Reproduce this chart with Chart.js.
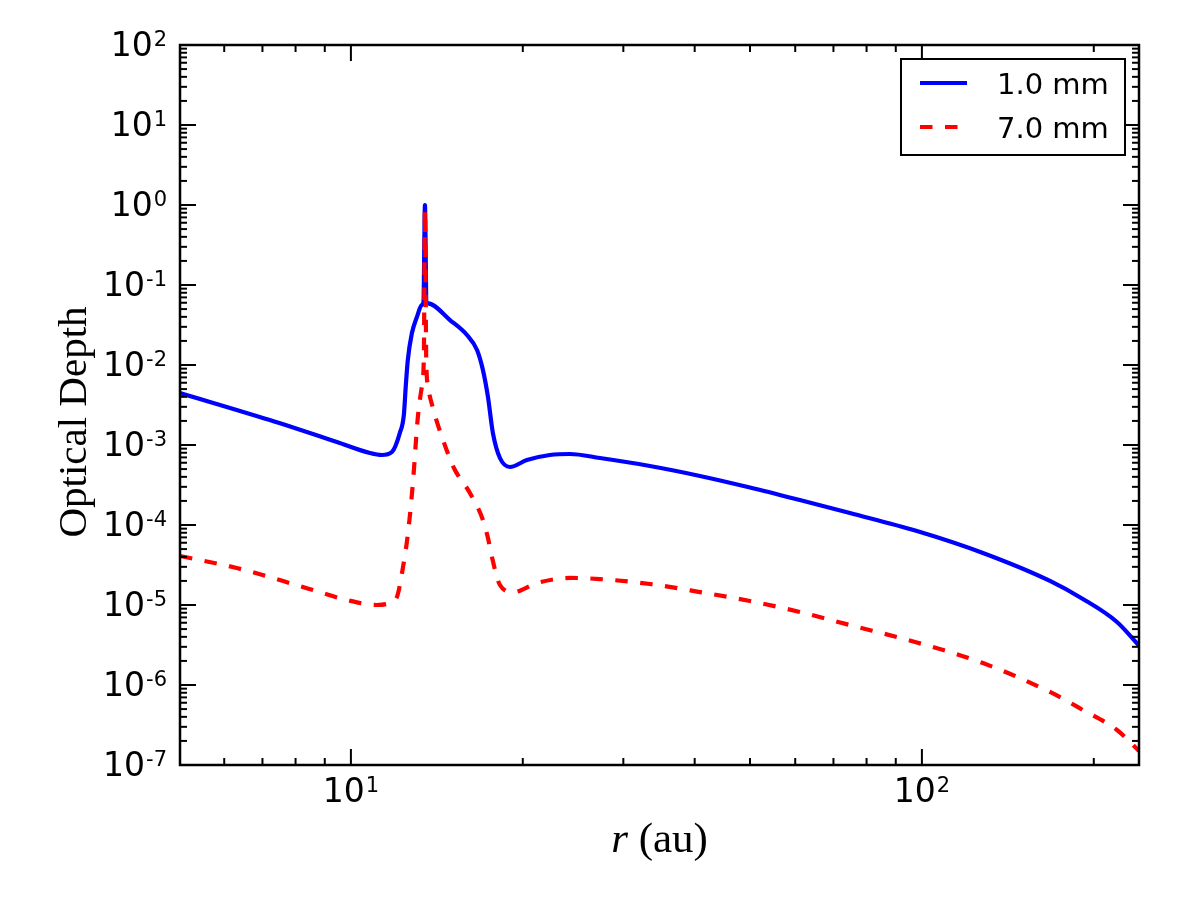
<!DOCTYPE html>
<html>
<head>
<meta charset="utf-8">
<script src="https://cdn.jsdelivr.net/npm/chart.js@4/dist/chart.umd.min.js"></script>
<style>
  body { margin: 0; background: #fff; }
</style>
</head>
<body>
<canvas id="chart" width="1200" height="900"></canvas>
<script>
// radius (au) and optical depth
const rBlue = [5.02, 7.21, 9.45, 10.80, 11.33, 11.80, 12.18, 12.38, 12.48, 12.58, 12.79, 13.05, 13.31, 13.40, 13.48, 13.56, 13.65,
  14.91, 15.97, 16.63, 17.03, 17.38, 17.73, 18.24, 18.99, 20.33, 22.31, 24.18, 27.30, 33.39, 40.86, 49.99, 61.12, 74.8,
  98.0, 127.9, 167.6, 191.4, 219.6, 240];
const tauBlue = [4.47e-3, 2.05e-3, 1.09e-3, 7.94e-4, 7.5e-4, 8.18e-4, 1.41e-3, 2.37e-3, 5.6e-3, 1.155e-2, 2.51e-2, 3.98e-2, 5.62e-2, 6.13e-2, 1.0, 6.13e-2, 5.9e-2,
  3.65e-2, 2.37e-2, 1.54e-2, 8.66e-3, 3.98e-3, 1.41e-3, 6.88e-4, 5.31e-4, 6.49e-4, 7.5e-4, 7.72e-4, 6.88e-4, 5.46e-4, 4.10e-4, 2.94e-4, 2.05e-4, 1.41e-4,
  8.41e-5, 4.47e-5, 2.0e-5, 1.19e-5, 6.13e-6, 3.1e-6];

const rRed = [5.02, 6.31, 8.24, 9.84, 11.10, 11.70, 12.04, 12.34, 12.59, 12.84, 13.10, 13.31, 13.42, 13.48, 13.55, 13.64, 13.92,
  14.50, 15.15, 16.16, 17.03, 17.38, 17.66, 18.24, 19.22, 21.17, 24.18, 27.30, 33.39, 40.86, 49.99, 61.12, 74.8,
  98.0, 127.9, 167.6, 191.4, 219.6, 240];
const tauRed = [4.1e-5, 2.9e-5, 1.68e-5, 1.155e-5, 1.0e-5, 1.06e-5, 1.26e-5, 2.99e-5, 7.94e-5, 3.35e-4, 2.24e-3, 5.31e-3, 1.26e-2, 0.87, 1.2e-2, 5.62e-3, 2.9e-3,
  1.155e-3, 5.16e-4, 2.51e-4, 1.155e-4, 6.88e-5, 3.98e-5, 1.78e-5, 1.45e-5, 1.88e-5, 2.18e-5, 2.11e-5, 1.83e-5, 1.45e-5, 1.12e-5, 8.18e-6, 5.62e-6,
  3.40e-6, 1.88e-6, 8.18e-7, 4.87e-7, 2.74e-7, 1.5e-7];

const seriesLabels = ['1.0 mm', '7.0 mm'];
const xTickExp = [1, 2];
const yTickExp = [2, 1, 0, -1, -2, -3, -4, -5, -6, -7];

const tickFont = '"DejaVu Sans", sans-serif';
const serifFont = '"Liberation Serif", serif';

// draw "10^exp" with a raised exponent
function powerLabel(ctx, exp, px, py, align) {
  ctx.font = '33px ' + tickFont;
  const wb = ctx.measureText('10').width;
  ctx.font = '21px ' + tickFont;
  const sup = String(exp);
  const ws = ctx.measureText(sup).width;
  const total = wb + ws + 1;
  let x0 = align === 'right' ? px - total : px - total / 2;
  ctx.textAlign = 'left';
  ctx.textBaseline = 'alphabetic';
  ctx.font = '33px ' + tickFont;
  ctx.fillText('10', x0, py);
  ctx.font = '21px ' + tickFont;
  ctx.fillText(sup, x0 + wb + 1, py - 10);
}

const frame = {
  id: 'frame',
  afterDraw(chart) {
    const { ctx, chartArea: a, scales: { x, y } } = chart;
    ctx.save();
    ctx.strokeStyle = '#000';
    ctx.fillStyle = '#000';
    ctx.lineWidth = 2;
    const seg = (x0, y0, x1, y1) => { ctx.beginPath(); ctx.moveTo(x0, y0); ctx.lineTo(x1, y1); ctx.stroke(); };

    // inward ticks on all four sides
    for (let e = 0; e <= 3; e++) {
      for (let m = 1; m <= 9; m++) {
        const v = m * Math.pow(10, e);
        if (v < x.min * 0.9999 || v > x.max * 1.0001) continue;
        const px = x.getPixelForValue(v);
        const len = m === 1 ? 16 : 7;
        seg(px, a.bottom, px, a.bottom - len);
        seg(px, a.top, px, a.top + len);
      }
    }
    for (let e = -7; e <= 2; e++) {
      for (let m = 1; m <= 9; m++) {
        const v = m * Math.pow(10, e);
        if (v < y.min * 0.9999 || v > y.max * 1.0001) continue;
        const py = y.getPixelForValue(v);
        const len = m === 1 ? 16 : 7;
        seg(a.left, py, a.left + len, py);
        seg(a.right, py, a.right - len, py);
      }
    }

    // frame
    ctx.lineWidth = 2.5;
    ctx.strokeRect(a.left, a.top, a.right - a.left, a.bottom - a.top);

    // tick labels
    xTickExp.forEach(e => powerLabel(ctx, e, x.getPixelForValue(Math.pow(10, e)), a.bottom + 37, 'center'));
    yTickExp.forEach(e => powerLabel(ctx, e, a.left - 13, y.getPixelForValue(Math.pow(10, e)) + 11, 'right'));

    // axis titles
    ctx.font = 'italic 43px ' + serifFont;
    const wr = ctx.measureText('r').width;
    ctx.font = '43px ' + serifFont;
    const wrest = ctx.measureText(' (au)').width;
    const cx = (a.left + a.right) / 2;
    let sx = cx - (wr + wrest) / 2;
    ctx.textAlign = 'left';
    ctx.font = 'italic 43px ' + serifFont;
    ctx.fillText('r', sx, 852);
    ctx.font = '43px ' + serifFont;
    ctx.fillText(' (au)', sx + wr, 852);

    ctx.save();
    ctx.font = '41px ' + serifFont;
    ctx.translate(86, 422);
    ctx.rotate(-Math.PI / 2);
    ctx.textAlign = 'center';
    ctx.fillText('Optical Depth', 0, 0);
    ctx.restore();

    // legend
    const bx = a.right - 238, by = a.top + 14, bw = 224, bh = 96;
    ctx.fillStyle = '#fff';
    ctx.fillRect(bx, by, bw, bh);
    ctx.lineWidth = 2;
    ctx.strokeRect(bx, by, bw, bh);
    chart.data.datasets.forEach((ds, i) => {
      const ly = by + 24 + i * 44;
      ctx.strokeStyle = ds.borderColor;
      ctx.lineWidth = ds.borderWidth;
      ctx.setLineDash(ds.borderDash || []);
      seg(bx + 19, ly, bx + 66, ly);
      ctx.setLineDash([]);
      ctx.fillStyle = '#000';
      ctx.font = '29px ' + tickFont;
      ctx.textAlign = 'left';
      ctx.fillText(ds.label, bx + 96, ly + 11);
    });
    ctx.restore();
  }
};

new Chart(document.getElementById('chart'), {
  type: 'line',
  data: {
    datasets: [
      {
        label: seriesLabels[0],
        data: rBlue.map((r, i) => ({ x: r, y: tauBlue[i] })),
        borderColor: '#0000ff',
        borderWidth: 4.2,
        pointRadius: 0,
        cubicInterpolationMode: 'monotone',
        fill: false,
        order: 2
      },
      {
        label: seriesLabels[1],
        data: rRed.map((r, i) => ({ x: r, y: tauRed[i] })),
        borderColor: '#ff0000',
        borderWidth: 4.2,
        borderDash: [12.5, 12.5],
        pointRadius: 0,
        cubicInterpolationMode: 'monotone',
        fill: false,
        order: 1
      }
    ]
  },
  options: {
    responsive: false,
    animation: false,
    layout: { padding: { left: 180, top: 45, right: 61, bottom: 135 } },
    plugins: { legend: { display: false }, tooltip: { enabled: false } },
    scales: {
      x: { type: 'logarithmic', min: 5.02, max: 240, display: false },
      y: { type: 'logarithmic', min: 1e-7, max: 100, display: false }
    }
  },
  plugins: [frame]
});
</script>
</body>
</html>
